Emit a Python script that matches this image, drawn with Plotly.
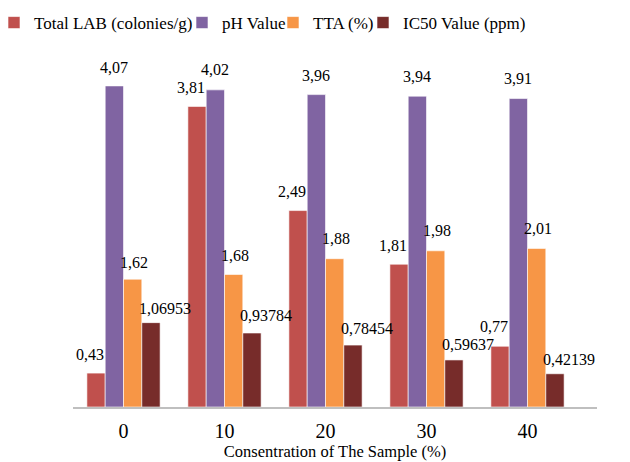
import plotly.graph_objects as go

categories = ["0", "10", "20", "30", "40"]
total_lab = [0.43, 3.81, 2.49, 1.81, 0.77]
ph_value = [4.07, 4.02, 3.96, 3.94, 3.91]
tta = [1.62, 1.68, 1.88, 1.98, 2.01]
ic50 = [1.06953, 0.93784, 0.78454, 0.59637, 0.42139]

series_names = ["Total LAB (colonies/g)", "pH Value", "TTA (%)", "IC50 Value (ppm)"]
series_values = [total_lab, ph_value, tta, ic50]
series_colors = ["#C0504D", "#8064A2", "#F79646", "#772C2A"]

SERIF = "Liberation Serif, Times New Roman, serif"

# ---- layout geometry (figure pixels; page body adds an 8px offset) ----
W, H = 622, 454
L, R, T, B = 65, 33, 44, 55
pw = W - L - R
ph = H - T - B
BODY = 8
BARGAP = 0.275

# data-label styling: horizontal nudge per series, vertical gap per label
label_dx = [-5, 0, 1, 13]
label_dy = [
    [19, 19, 19, 19, 20],
    [18, 20, 19, 20, 20],
    [17, 19, 20, 20, 20],
    [14, 18, 17, 15, 14],
]

# legend: where (on screen) each entry's text should start
legend_text_screen = [36, 224, 315, 405]
legend_center_screen_y = 23

fig = go.Figure()
legend_ids = ["legend", "legend2", "legend3", "legend4"]
for i, (name, vals, color) in enumerate(zip(series_names, series_values, series_colors)):
    fig.add_trace(go.Bar(
        name=name, x=categories, y=vals,
        marker=dict(color=color, line=dict(color="white", width=0.6)),
        legend=legend_ids[i],
    ))

# data labels via annotations anchored at each bar's value
slot = pw / len(categories)
bar_w = slot * (1 - BARGAP) / len(series_values)
annotations = []
for i, vals in enumerate(series_values):
    offset = (i - (len(series_values) - 1) / 2) * bar_w
    for j, v in enumerate(vals):
        annotations.append(dict(
            x=j, y=v, xref="x", yref="y",
            text=str(v).replace(".", ","), showarrow=False,
            xanchor="center", yanchor="middle",
            xshift=offset + label_dx[i], yshift=label_dy[i][j],
            font=dict(family=SERIF, size=16, color="black"),
        ))

layout_legends = {}
for i, lid in enumerate(legend_ids):
    left_fig = legend_text_screen[i] - BODY - 42
    layout_legends[lid] = dict(
        x=(left_fig - L) / pw, xanchor="left",
        y=(H - B - (legend_center_screen_y - BODY)) / ph, yanchor="middle",
        xref="paper", yref="paper",
        orientation="h", bgcolor="rgba(0,0,0,0)",
        font=dict(size=17, family=SERIF, color="black"),
    )

fig.update_layout(
    width=W, height=H,
    barmode="group", bargap=BARGAP, bargroupgap=0,
    plot_bgcolor="white", paper_bgcolor="white",
    font=dict(family=SERIF, color="black"),
    margin=dict(l=L, r=R, t=T, b=B, autoexpand=False),
    showlegend=True,
    annotations=annotations,
    xaxis=dict(type="category", showline=True, linecolor="#BFBFBF", linewidth=2,
               ticks="", ticklabelstandoff=5, tickfont=dict(size=20, family=SERIF),
               title=dict(text="Consentration of The Sample (%)",
                          font=dict(size=16.5, family=SERIF), standoff=2)),
    yaxis=dict(visible=False, range=[0, 4.5], showgrid=False),
    **layout_legends,
)

fig.write_html("out.html")
